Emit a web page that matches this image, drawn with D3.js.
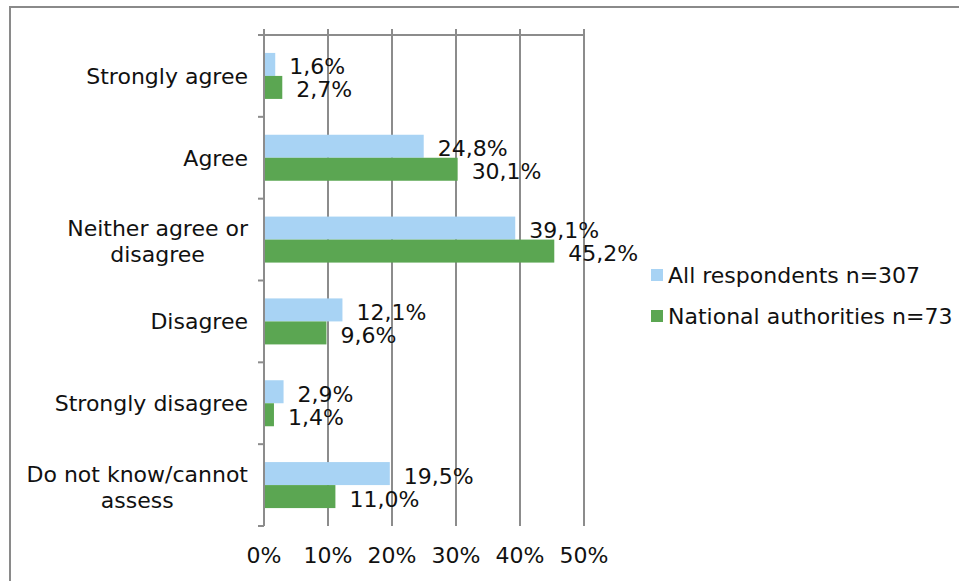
<!DOCTYPE html>
<html>
<head>
<meta charset="utf-8">
<script src="https://cdn.jsdelivr.net/npm/d3@7"></script>
<style>
  html, body { margin: 0; padding: 0; background: #fff; }
  svg { display: block; }
  text { font-family: "DejaVu Sans", Verdana, sans-serif; fill: #111; }
</style>
</head>
<body>
<svg id="chart" width="959" height="581"></svg>
<script>
// ---- data ----
const categories = [
  ["Strongly agree"],
  ["Agree"],
  ["Neither agree or", "disagree"],
  ["Disagree"],
  ["Strongly disagree"],
  ["Do not know/cannot", "assess"]
];
const seriesNames = ["All respondents n=307", "National authorities n=73"];
const allRespondents = [1.6, 24.8, 39.1, 12.1, 2.9, 19.5];
const nationalAuthorities = [2.7, 30.1, 45.2, 9.6, 1.4, 11.0];
const xTicks = [0, 10, 20, 30, 40, 50];
const colors = ["#a8d3f4", "#5ba652"];

// ---- layout ----
const svg = d3.select("#chart");
const plot = { left: 264, right: 584, top: 35, bottom: 526 };
const fontSize = 22;

// outer frame (partially visible)
svg.append("rect")
  .attr("x", 10).attr("y", 7)
  .attr("width", 1000).attr("height", 1000)
  .attr("fill", "none").attr("stroke", "#8a8a8a").attr("stroke-width", 2);

const x = d3.scaleLinear().domain([0, 50]).range([plot.left, plot.right]);
const catIdx = d3.range(categories.length);
const y = d3.scaleBand().domain(catIdx).range([plot.top, plot.bottom]).padding(0);
const inner = d3.scaleBand().domain([0, 1]).range([-23, 23]).padding(0);

const series = [allRespondents, nationalAuthorities];
const fmt = v => d3.format(".1f")(v).replace(".", ",") + "%";

// gridlines
svg.append("g").selectAll("line").data(xTicks).join("line")
  .attr("x1", d => x(d)).attr("x2", d => x(d))
  .attr("y1", plot.top - 6).attr("y2", plot.bottom)
  .attr("stroke", "#8c8c8c").attr("stroke-width", 2);

// top axis line
svg.append("line")
  .attr("x1", plot.left).attr("x2", plot.right)
  .attr("y1", plot.top).attr("y2", plot.top)
  .attr("stroke", "#8c8c8c").attr("stroke-width", 2);

// left axis
svg.append("line")
  .attr("x1", plot.left).attr("x2", plot.left)
  .attr("y1", plot.top).attr("y2", plot.bottom)
  .attr("stroke", "#8c8c8c").attr("stroke-width", 2);
const boundaries = catIdx.map(i => y(i)).concat([plot.bottom]);
svg.append("g").selectAll("line").data(boundaries).join("line")
  .attr("x1", plot.left - 6).attr("x2", plot.left)
  .attr("y1", d => d).attr("y2", d => d)
  .attr("stroke", "#8c8c8c").attr("stroke-width", 2);

// x tick labels
svg.append("g").selectAll("text").data(xTicks).join("text")
  .attr("x", d => x(d)).attr("y", 563)
  .attr("text-anchor", "middle")
  .style("font-size", fontSize + "px")
  .text(d => d + "%");

// bars
series.forEach((vals, s) => {
  const g = svg.append("g");
  g.selectAll("rect").data(vals).join("rect")
    .attr("x", x(0) + 1)
    .attr("y", (d, i) => y(i) + y.bandwidth() / 2 + inner(s))
    .attr("width", d => x(d) - x(0))
    .attr("height", inner.bandwidth())
    .attr("fill", colors[s]);
  g.selectAll("text").data(vals).join("text")
    .attr("x", d => x(d) + 15)
    .attr("y", (d, i) => y(i) + y.bandwidth() / 2 + inner(s) + inner.bandwidth() / 2 + 10)
    .style("font-size", fontSize + "px")
    .text(d => fmt(d));
});

// category labels (lines centred within a right-aligned block)
categories.forEach((lines, i) => {
  const g = svg.append("g");
  const cy = y(i) + y.bandwidth() / 2;
  const lh = 26;
  const off = lines.length > 1 ? 9.5 : 8;
  const texts = lines.map((l, k) => g.append("text")
    .style("font-size", fontSize + "px")
    .attr("y", cy + off + (k - (lines.length - 1) / 2) * lh)
    .text(l));
  const w = d3.max(texts, t => t.node().getComputedTextLength());
  const cx = 248 - w / 2;
  texts.forEach(t => t.attr("x", cx).attr("text-anchor", "middle"));
});

// legend
const legend = svg.append("g");
seriesNames.forEach((name, s) => {
  const ly = 275 + s * 41;
  legend.append("rect")
    .attr("x", 651).attr("y", ly - 6)
    .attr("width", 12).attr("height", 12)
    .attr("fill", colors[s]);
  legend.append("text")
    .attr("x", 668).attr("y", ly + 8)
    .style("font-size", fontSize + "px")
    .text(name);
});
</script>
</body>
</html>
